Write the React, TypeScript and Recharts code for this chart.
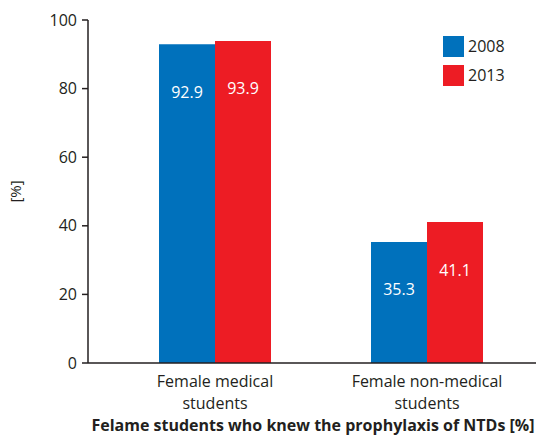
import React from 'react';
import { BarChart, Bar, XAxis, YAxis, LabelList } from 'recharts';

const categories = ['Female medical\nstudents', 'Female non-medical\nstudents'];
const values2008 = [92.9, 35.3];
const values2013 = [93.9, 41.1];
const yTicks = [0, 20, 40, 60, 80, 100];
const seriesNames = ['2008', '2013'];
const seriesColors = ['#0071BC', '#ED1C24'];

const data = categories.map((c, i) => ({ category: c, y2008: values2008[i], y2013: values2013[i] }));

const FONT = '"Open Sans", sans-serif';
const TEXT = '#231F20';

const XTick = (props: any) => {
  const { x, y, payload } = props;
  const lines = String(payload.value).split('\n');
  return (
    <text x={x} y={y} textAnchor="middle" fill={TEXT} fontFamily={FONT} fontSize={16}>
      {lines.map((l, i) => (
        <tspan key={i} x={x} y={y + 23.5 + i * 22}>{l}</tspan>
      ))}
    </text>
  );
};

const barLabel = (props: any) => {
  const { x, y, width, value } = props;
  return (
    <text x={x + width / 2} y={y + 53.5} textAnchor="middle" fill="#FFFFFF" fontFamily={FONT} fontSize={16}>
      {value}
    </text>
  );
};

const LegendBox = () => (
  <div style={{ position: 'absolute', left: 443, top: 36, fontFamily: FONT, fontSize: 16, color: TEXT }}>
    {seriesNames.map((n, i) => (
      <div key={n} style={{ display: 'flex', alignItems: 'center', height: 21, marginBottom: 8 }}>
        <div style={{ width: 21, height: 21, background: seriesColors[i], marginRight: 4 }} />
        <span style={{ lineHeight: '21px' }}>{n}</span>
      </div>
    ))}
  </div>
);

export default function App() {
  return (
    <div style={{ position: 'absolute', left: 0, top: 0, width: 538, height: 442, background: '#fff' }}>
      <BarChart
        width={538}
        height={442}
        data={data}
        margin={{ top: 20, right: 2, bottom: 0, left: 28 }}
        barGap={0}
        barSize={56}
      >
        <XAxis
          dataKey="category"
          height={79}
          padding={{ left: 21, right: 3 }}
          tickLine={false}
          tickSize={0}
          tickMargin={0}
          tick={<XTick />}
          stroke={TEXT}
          strokeWidth={1.5}
          interval={0}
          label={{
            content: (p: any) => {
              const vb = p.viewBox;
              return (
                <text x={vb.x + vb.width / 2 + 1} y={431} textAnchor="middle" fill={TEXT} fontFamily={FONT} fontSize={16} fontWeight="bold">
                  Felame students who knew the prophylaxis of NTDs [%]
                </text>
              );
            },
          }}
        />
        <YAxis
          width={60}
          domain={[0, 100]}
          ticks={yTicks}
          tickSize={6}
          tickMargin={5}
          stroke={TEXT}
          strokeWidth={1.5}
          tick={{ fill: TEXT, fontFamily: FONT, fontSize: 16 }}
          label={{
            content: (p: any) => {
              const vb = p.viewBox;
              const cy = vb.y + vb.height / 2;
              return (
                <text x={15} y={cy} transform={`rotate(-90 15 ${cy})`} textAnchor="middle" dominantBaseline="central" fill={TEXT} fontFamily={FONT} fontSize={15}>
                  [%]
                </text>
              );
            },
          }}
        />
        <Bar dataKey="y2008" name={seriesNames[0]} fill={seriesColors[0]} isAnimationActive={false}>
          <LabelList dataKey="y2008" content={barLabel} />
        </Bar>
        <Bar dataKey="y2013" name={seriesNames[1]} fill={seriesColors[1]} isAnimationActive={false}>
          <LabelList dataKey="y2013" content={barLabel} />
        </Bar>
      </BarChart>
      <LegendBox />
    </div>
  );
}
